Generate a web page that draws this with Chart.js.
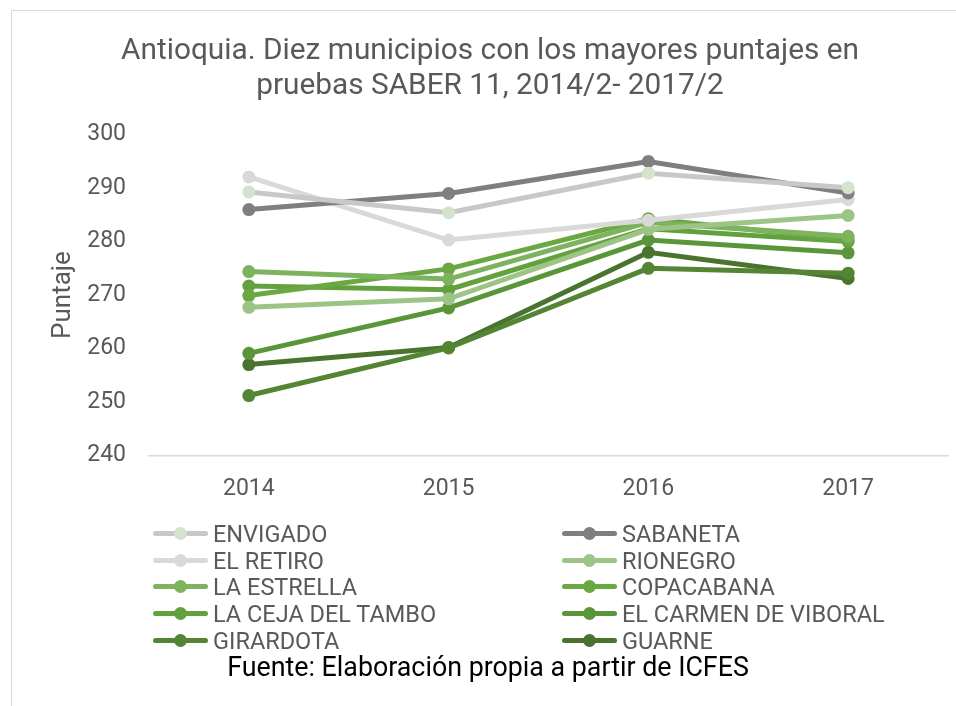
<!DOCTYPE html>
<html>
<head>
<meta charset="utf-8">
<script src="https://cdn.jsdelivr.net/npm/chart.js@4.4.1/dist/chart.umd.min.js"></script>
<style>
    body { margin: 0; background: #fff; font-family: Roboto, sans-serif; }
    .page { position: relative; width: 956px; height: 706px; overflow: hidden; }
    .frame { position: absolute; left: 11px; top: 10px; width: 960px; height: 720px; border: 1px solid #d9d9d9; }
    #chart { position: absolute; left: 0; top: 0; }
    .legend-item { position: absolute; height: 27px; display: flex; align-items: center; font-size: 23.5px; color: #595959; white-space: nowrap; }
    .sample { position: relative; width: 55px; height: 27px; margin-right: 5px; }
    .sample .ln { position: absolute; left: 0; right: 0; top: 11px; height: 5px; border-radius: 3px; }
    .sample .dot { position: absolute; left: 21px; top: 7px; width: 13px; height: 13px; border-radius: 50%; }
    .source { position: absolute; left: 0; width: 976px; top: 651px; text-align: center; font-size: 26.8px; color: #000; }
</style>
</head>
<body>
<div class="page">
    <div class="frame"></div>
    <canvas id="chart" width="956" height="706"></canvas>
    <div id="legend"></div>
    <div class="source">Fuente: Elaboración propia a partir de ICFES</div>
</div>
<script>
// Years on the x axis
const years = ['2014', '2015', '2016', '2017'];
const yTicks = [240, 250, 260, 270, 280, 290, 300];

// Municipalities (legend order)
const municipios = ['ENVIGADO', 'SABANETA', 'EL RETIRO', 'RIONEGRO', 'LA ESTRELLA',
    'COPACABANA', 'LA CEJA DEL TAMBO', 'EL CARMEN DE VIBORAL', 'GIRARDOTA', 'GUARNE'];

// Puntajes
const envigado = [289.3, 285.4, 292.8, 290.1];
const sabaneta = [286.0, 289.0, 295.0, 289.1];
const elRetiro = [292.1, 280.3, 284.0, 287.9];
const rionegro = [267.7, 269.3, 282.3, 284.9];
const laEstrella = [274.4, 273.0, 283.6, 281.0];
const copacabana = [269.9, 274.9, 284.3, 280.3];
const laCeja = [271.7, 271.0, 282.4, 280.0];
const elCarmen = [259.1, 267.6, 280.3, 277.9];
const girardota = [251.2, 260.1, 275.0, 274.1];
const guarne = [257.0, 260.2, 278.0, 273.1];

const lineColors = ['#c8c8c8', '#7f7f7f', '#d9d9d9', '#9dc487', '#7db35f',
    '#6aa843', '#63a03e', '#5b953a', '#548534', '#4a732f'];
const dotColors = ['#d4e4cc', '#7f7f7f', '#d9d9d9', '#9dc487', '#7db35f',
    '#6aa843', '#63a03e', '#5b953a', '#548534', '#4a732f'];

const series = [envigado, sabaneta, elRetiro, rionegro, laEstrella,
    copacabana, laCeja, elCarmen, girardota, guarne];

const font = 'Roboto, sans-serif';
const grey = '#595959';

const datasets = series.map((vals, i) => ({
    label: municipios[i],
    data: vals,
    borderColor: lineColors[i],
    backgroundColor: dotColors[i],
    pointBackgroundColor: dotColors[i],
    pointBorderColor: dotColors[i],
    borderWidth: 5,
    pointRadius: 6.5,
    pointBorderWidth: 0,
    tension: 0
}));

const ctx = document.getElementById('chart').getContext('2d');
new Chart(ctx, {
    type: 'line',
    data: { labels: years, datasets: datasets },
    options: {
        responsive: false,
        animation: false,
        layout: { padding: { left: 32, right: 8, top: 0, bottom: 183 } },
        plugins: {
            legend: { display: false },
            tooltip: { enabled: false },
            title: {
                display: true,
                text: ['Antioquia. Diez municipios con los mayores puntajes en',
                       'pruebas SABER 11, 2014/2- 2017/2'],
                color: grey,
                font: { family: font, size: 29.8, weight: 'normal', lineHeight: 1.17 },
                padding: { top: 34, bottom: 31 }
            }
        },
        scales: {
            x: {
                offset: true,
                grid: { display: false, drawTicks: false },
                border: { display: true, color: '#d9d9d9', width: 1.5 },
                ticks: { color: grey, font: { family: font, size: 23 }, padding: 20 }
            },
            y: {
                min: yTicks[0],
                max: yTicks[yTicks.length - 1],
                afterBuildTicks: axis => { axis.ticks = yTicks.map(v => ({ value: v })); },
                // hidden tick marks keep the gap between labels and plot
                grid: { display: false, drawTicks: true, tickLength: 23 },
                border: { display: false },
                ticks: { color: grey, font: { family: font, size: 23 }, padding: 0 },
                title: {
                    display: true,
                    text: 'Puntaje',
                    color: grey,
                    font: { family: font, size: 26 },
                    padding: { top: 16, bottom: 8 }
                }
            }
        }
    }
});

// Two-column legend as in the original
const legend = document.getElementById('legend');
const colX = [153, 562];
const rowY = [520, 547, 573, 600, 627];
municipios.forEach((name, i) => {
    const item = document.createElement('div');
    item.className = 'legend-item';
    item.style.left = colX[i % 2] + 'px';
    item.style.top = rowY[Math.floor(i / 2)] + 'px';
    item.innerHTML = `
        <div class="sample">
            <div class="ln" style="background:${lineColors[i]}"></div>
            <div class="dot" style="background:${dotColors[i]}"></div>
        </div>
        <span>${name}</span>`;
    legend.appendChild(item);
});
</script>
</body>
</html>
